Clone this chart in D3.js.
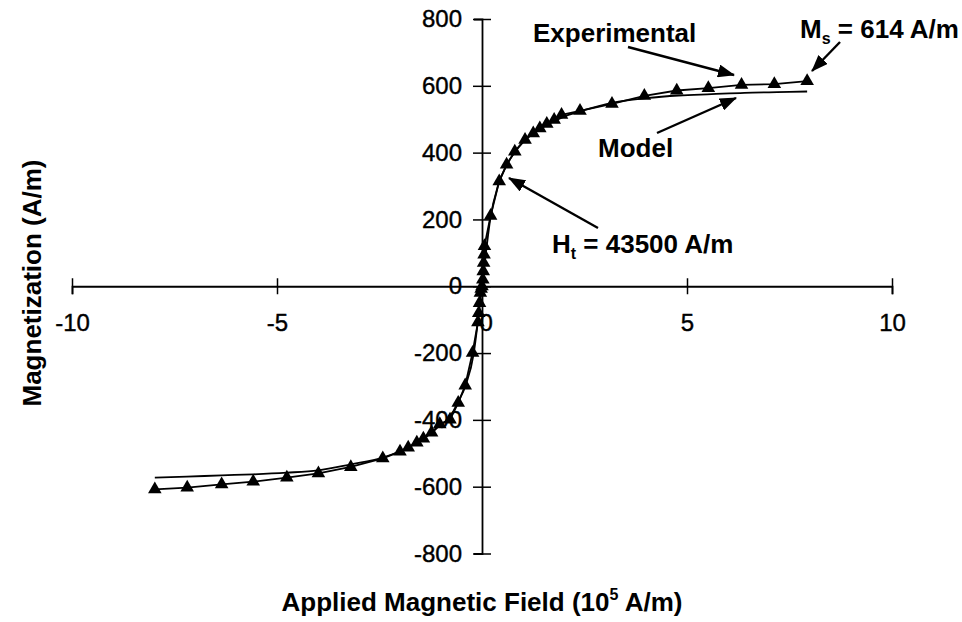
<!DOCTYPE html>
<html>
	<head>
		<meta charset="utf-8">
		<title>Magnetization curve</title>
		<script src="https://d3js.org/d3.v7.min.js"></script>
		<style type="text/css">
			body { margin: 0; background: #fff; }
			text { font-family: "Liberation Sans", Arial, sans-serif; fill: #000; }
		</style>
	</head>
	<body>
		<script type="text/javascript">

			var svgWidth = 962;
			var svgHeight = 622;

			// Experimental points (H in 10^5 A/m, M in A/m)
			var expH = [-7.98, -7.19, -6.35, -5.58, -4.76, -3.99, -3.20, -2.42, -2.00, -1.80, -1.59, -1.43, -1.23, -1.03,
				-0.78, -0.58, -0.41, -0.23, -0.10, -0.08, -0.06, -0.04, -0.02,
				0, 0.02, 0.03, 0.04, 0.05, 0.06,
				0.21, 0.42, 0.60, 0.80, 1.05, 1.25, 1.41, 1.58, 1.76, 1.94, 2.39, 3.17, 3.96, 4.75, 5.52, 6.33, 7.13, 7.93];
			var expM = [-608, -603, -593, -585, -573, -560, -541, -515, -495, -483, -468, -456, -438, -413,
				-399, -349, -297, -199, -108, -80, -50, -20, -8,
				0, 20, 45, 70, 95, 120,
				211, 314, 364, 403, 438, 458, 473, 486, 498, 513, 525, 546, 570, 586, 593, 603, 605, 614];

			// Model curve
			var modelH = [-7.98, -7.2, -6.35, -5.58, -4.76, -4.0, -3.2, -2.42, -2.0, -1.6, -1.2, -1.0, -0.8, -0.6, -0.4, -0.2, -0.1, 0,
				0.1, 0.2, 0.4, 0.6, 0.8, 1.0, 1.2, 1.6, 2.0, 2.4, 3.2, 4.0, 4.8, 5.6, 6.4, 7.2, 7.93];
			var modelM = [-573, -570, -566, -563, -558, -551, -533, -513, -494, -469, -436, -413, -395, -350, -297, -200, -105, 0,
				105, 200, 305, 362, 402, 432, 454, 484, 508, 524, 550, 563, 571, 575, 579, 581, 583];

			var xTicks = [-10, -5, 0, 5, 10];
			var yTicks = [-800, -600, -400, -200, 0, 200, 400, 600, 800];

			var xScale = d3.scaleLinear().domain([-10, 10]).range([72, 892]);
			var yScale = d3.scaleLinear().domain([-800, 800]).range([553.5, 19]);

			var svg = d3.select('body')
				.append('svg')
				.attr('width', svgWidth)
				.attr('height', svgHeight);

			svg.append('defs').append('marker')
				.attr('id', 'head')
				.attr('markerUnits', 'userSpaceOnUse')
				.attr('viewBox', '0 0 17 13')
				.attr('refX', 16)
				.attr('refY', 6.5)
				.attr('markerWidth', 17)
				.attr('markerHeight', 13)
				.attr('orient', 'auto')
				.append('path')
				.attr('d', 'M0,0 L17,6.5 L0,13 Z')
				.attr('fill', '#000');

			var plain = function(d) { return String(d); };   // hyphen instead of unicode minus

			// x axis through M = 0
			var xAxis = svg.append('g')
				.attr('transform', 'translate(0,' + yScale(0) + ')')
				.call(d3.axisBottom(xScale).tickValues(xTicks).tickFormat(plain).tickSizeOuter(0).tickSize(8));
			xAxis.select('.domain').attr('stroke', '#000').attr('stroke-width', 1.8);
			xAxis.selectAll('.tick line').attr('y1', -8).attr('y2', 8).attr('stroke-width', 1.5);
			xAxis.selectAll('.tick text')
				.attr('y', 45).attr('dy', 0)
				.attr('font-size', '24px')
				.attr('font-family', '"Liberation Sans", Arial, sans-serif')
				.attr('stroke', '#000').attr('stroke-width', 0.4)
				.attr('dx', function(d) { return d === 0 ? '0.15em' : 0; });

			// y axis through H = 0
			var yAxis = svg.append('g')
				.attr('transform', 'translate(' + xScale(0) + ',0)')
				.call(d3.axisLeft(yScale).tickValues(yTicks).tickFormat(plain).tickSizeOuter(0).tickSize(8));
			yAxis.select('.domain').attr('stroke', '#000').attr('stroke-width', 1.8);
			yAxis.selectAll('.tick line').attr('x1', -9).attr('x2', 9).attr('stroke-width', 1.5);
			yAxis.selectAll('.tick text')
				.attr('x', -20)
				.attr('font-size', '24px')
				.attr('font-family', '"Liberation Sans", Arial, sans-serif')
				.attr('stroke', '#000').attr('stroke-width', 0.4);

			var line = d3.line()
				.x(function(d) { return xScale(d[0]); })
				.y(function(d) { return yScale(d[1]); });

			var modelData = modelH.map(function(h, i) { return [h, modelM[i]]; });
			var expData = expH.map(function(h, i) { return [h, expM[i]]; });

			svg.append('path')
				.datum(modelData)
				.attr('d', line.curve(d3.curveMonotoneX))
				.attr('fill', 'none')
				.attr('stroke', '#000')
				.attr('stroke-width', 1.8);

			svg.append('path')
				.datum(expData)
				.attr('d', line.curve(d3.curveLinear))
				.attr('fill', 'none')
				.attr('stroke', '#000')
				.attr('stroke-width', 1.8);

			svg.selectAll('path.pt')
				.data(expData)
				.enter()
				.append('path')
				.attr('class', 'pt')
				.attr('d', d3.symbol().type(d3.symbolTriangle).size(80))
				.attr('transform', function(d) {
					return 'translate(' + xScale(d[0]) + ',' + yScale(d[1]) + ')';
				})
				.attr('fill', '#000');

			// axis titles
			svg.append('text')
				.attr('transform', 'translate(41,283) rotate(-90)')
				.attr('text-anchor', 'middle')
				.attr('font-size', '26px')
				.attr('font-weight', 'bold')
				.text('Magnetization (A/m)');

			var xt = svg.append('text')
				.attr('x', 482)
				.attr('y', 611)
				.attr('text-anchor', 'middle')
				.attr('font-size', '26px')
				.attr('font-weight', 'bold');
			xt.append('tspan').text('Applied Magnetic Field (10');
			xt.append('tspan').attr('font-size', '16px').attr('dy', -11).text('5');
			xt.append('tspan').attr('dy', 11).text(' A/m)');

			// annotations
			var arrows = [
				[628, 47, 734, 75],
				[840, 42, 812, 71],
				[657, 133, 736, 98],
				[598, 228, 509, 178]
			];
			svg.selectAll('line.arrow')
				.data(arrows)
				.enter()
				.append('line')
				.attr('class', 'arrow')
				.attr('x1', function(d) { return d[0]; })
				.attr('y1', function(d) { return d[1]; })
				.attr('x2', function(d) { return d[2]; })
				.attr('y2', function(d) { return d[3]; })
				.attr('stroke', '#000')
				.attr('stroke-width', 2.4)
				.attr('marker-end', 'url(#head)');

			svg.append('text')
				.attr('x', 533).attr('y', 42)
				.attr('font-size', '26px').attr('font-weight', 'bold')
				.text('Experimental');

			svg.append('text')
				.attr('x', 598).attr('y', 157)
				.attr('font-size', '26px').attr('font-weight', 'bold')
				.text('Model');

			var ms = svg.append('text')
				.attr('x', 800).attr('y', 38)
				.attr('font-size', '26px').attr('font-weight', 'bold');
			ms.append('tspan').text('M');
			ms.append('tspan').attr('font-size', '16px').attr('dy', 6).text('s');
			ms.append('tspan').attr('dy', -6).text(' = 614 A/m');

			var ht = svg.append('text')
				.attr('x', 552).attr('y', 253)
				.attr('font-size', '26px').attr('font-weight', 'bold');
			ht.append('tspan').text('H');
			ht.append('tspan').attr('font-size', '16px').attr('dy', 6).text('t');
			ht.append('tspan').attr('dy', -6).text(' = 43500 A/m');

		</script>
	</body>
</html>
